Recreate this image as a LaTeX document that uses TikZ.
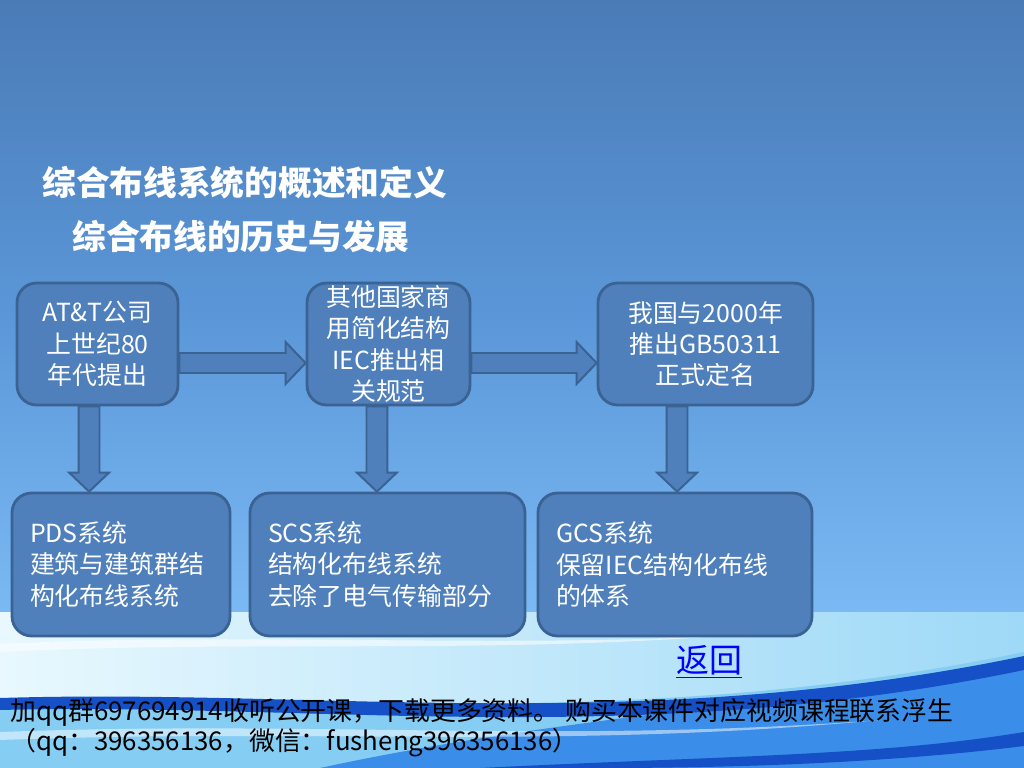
\documentclass[tikz,border=0pt]{standalone}
\usepackage{fontspec}
\setmainfont{Noto Sans CJK SC}
\usepackage{tikz}
\usetikzlibrary{calc}
\definecolor{slidetop}{HTML}{4A7BB7}
\definecolor{slidemid}{HTML}{5A96D7}
\definecolor{slidelow}{HTML}{7BB9F4}
\definecolor{boxfill}{HTML}{4F80BC}
\definecolor{boxline}{HTML}{3A6293}
\definecolor{linkblue}{HTML}{0000FF}
\definecolor{seapale}{HTML}{E8F8FE}
\definecolor{seasky}{HTML}{9ED9F7}
\definecolor{sealight}{HTML}{86CDF3}
\definecolor{seamid}{HTML}{3A8DE8}
\definecolor{seadeep}{HTML}{1650C6}

\begin{document}
\begin{tikzpicture}[
  box/.style={draw=boxline,line width=2pt,rounded corners=14pt,fill=boxfill,
    text=white,font=\fontsize{17.7}{22.3}\selectfont,minimum height=3.05cm},
  stage/.style={box,align=center,inner sep=0pt},
  result/.style={box,align=left,inner xsep=0.45cm,inner ysep=0pt,minimum height=3.575cm},
  hflow/.style={draw=boxline,line width=1.4pt,fill=boxfill,
    to path={let \p1=(\tikztostart),\p2=(\tikztotarget) in
      (\x1,\y1-0.25cm) -- (\x2-0.5cm,\y1-0.25cm) -- (\x2-0.5cm,\y1-0.525cm)
      -- (\x2,\y1) -- (\x2-0.5cm,\y1+0.525cm) -- (\x2-0.5cm,\y1+0.25cm)
      -- (\x1,\y1+0.25cm) -- cycle}},
  vflow/.style={draw=boxline,line width=1.4pt,fill=boxfill,
    to path={let \p1=(\tikztostart),\p2=(\tikztotarget) in
      (\x1-0.26cm,\y1) -- (\x1-0.26cm,\y2+0.475cm) -- (\x1-0.5cm,\y2+0.475cm)
      -- (\x1,\y2) -- (\x1+0.5cm,\y2+0.475cm) -- (\x1+0.26cm,\y2+0.475cm)
      -- (\x1+0.26cm,\y1) -- cycle}},
  title/.style={anchor=west,inner sep=0pt,text=white,font=\fontsize{24}{28}\selectfont\bfseries},
  note/.style={anchor=west,inner sep=0pt,text=black,font=\fontsize{18.4}{22}\selectfont}]
\useasboundingbox (0,0) rectangle (25.6,-19.2);

% slide background: sky gradient, then the sea waves at the bottom
\fill[top color=slidetop,bottom color=slidelow,middle color=slidemid] (0,0) rectangle (25.6,-15.3);
\fill[left color=seapale,right color=seasky] (0,-15.3) rectangle (25.6,-19.2);
\fill[sealight] (0,-17.6) .. controls (8,-17.3) and (16,-18.3) .. (25.6,-16.3)
  -- (25.6,-19.2) -- (0,-19.2) -- cycle;
\fill[seamid] (8,-19.2) .. controls (14,-17.9) and (20,-17.6) .. (25.6,-16.5)
  -- (25.6,-19.2) -- cycle;
\fill[seadeep] (0,-17.45) .. controls (8,-17.2) and (16,-18.4) .. (25.6,-16.4)
  -- (25.6,-16.75) .. controls (16,-18.75) and (8,-17.55) .. (0,-17.75) -- cycle;
\fill[seadeep] (12,-19.2) .. controls (18,-18.9) and (22,-18.9) .. (25.6,-18.3)
  -- (25.6,-18.65) .. controls (22,-19.1) and (18,-19.2) .. (15,-19.2) -- cycle;
\fill[white,opacity=0.55] (0,-16.1) .. controls (6,-15.8) and (12,-16.2) .. (18,-15.9)
  .. controls (12,-16.35) and (6,-16.0) .. (0,-16.3) -- cycle;
\fill[white,opacity=0.5] (0,-18.3) .. controls (8,-18.0) and (14,-18.6) .. (22,-18.0)
  .. controls (14,-18.75) and (8,-18.2) .. (0,-18.5) -- cycle;

\node[title] (topic) at (1.05,-4.575) {综合布线系统的概述和定义};
\node[title] (history) at (1.8,-5.925) {综合布线的历史与发展};

\node[stage,minimum width=4.025cm] (att) at (2.4375,-8.6) {AT\&T公司\\上世纪80\\年代提出};
\node[stage,minimum width=4.075cm] (iec) at (9.7125,-8.6) {其他国家商\\用简化结构\\IEC推出相\\关规范};
\node[stage,minimum width=5.375cm] (gb) at (17.6375,-8.6) {我国与2000年\\推出GB50311\\正式定名};
\node[result,text width=4.55cm] (pds) at (3.025,-14.1125) {PDS系统\\建筑与建筑群结\\构化布线系统};
\node[result,text width=5.975cm] (scs) at (9.6875,-14.1125) {SCS系统\\结构化布线系统\\去除了电气传输部分};
\node[result,text width=5.95cm] (gcs) at (16.875,-14.1125) {GCS系统\\保留IEC结构化布线\\的体系};

\draw[hflow] ([yshift=-0.475cm]att.east) to ([yshift=-0.475cm]iec.west);
\draw[hflow] ([yshift=-0.475cm]iec.east) to ([yshift=-0.475cm]gb.west);
\draw[vflow] ([xshift=-0.21cm]att.south) to ([xshift=-0.8cm]pds.north);
\draw[vflow] ([xshift=-0.29cm]iec.south) to ([xshift=-0.26cm]scs.north);
\draw[vflow] ([xshift=-0.71cm]gb.south) to ([xshift=0.05cm]gcs.north);

\node[text=linkblue,font=\fontsize{23.4}{28}\selectfont] (back) at (17.725,-16.55) {\underline{返回}};
\node[note] (ad) at (0.25,-17.8) {加qq群697694914收听公开课，下载更多资料。 购买本课件对应视频课程联系浮生};
\node[note] (contact) at (0.25,-18.575) {（qq：396356136，微信：fusheng396356136）};
\end{tikzpicture}
\end{document}
